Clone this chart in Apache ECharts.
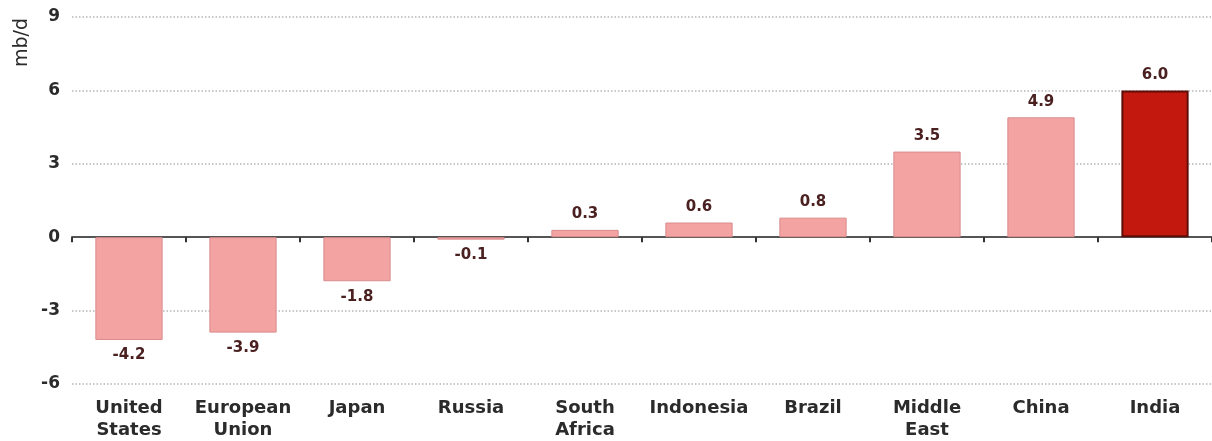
<!DOCTYPE html>
<html>
<head>
<meta charset="utf-8">
<script src="https://cdn.jsdelivr.net/npm/echarts@6/dist/echarts.min.js"></script>
<style>
  html, body { margin: 0; padding: 0; background: #ffffff; }
  #chart { width: 1212px; height: 441px; }
</style>
</head>
<body>
<div id="chart"></div>
<script>
// Change in oil demand by region, mb/d
const categories = ['United\nStates', 'European\nUnion', 'Japan', 'Russia', 'South\nAfrica',
                    'Indonesia', 'Brazil', 'Middle\nEast', 'China', 'India'];
const values = [-4.2, -3.9, -1.8, -0.1, 0.3, 0.6, 0.8, 3.5, 4.9, 6.0];
const highlighted = ['India'];
const yTicks = { min: -6, max: 9, step: 3 };
const unitLabel = 'mb/d';

const FONT = 'DejaVu Sans';
const lightFill = '#f4a3a3';
const lightEdge = '#d98c8c';
const darkFill = '#c3180d';
const darkEdge = '#5e0e08';

const chart = echarts.init(document.getElementById('chart'));

const barData = values.map((v, i) => {
  const hot = highlighted.includes(categories[i]);
  return {
    value: v,
    itemStyle: {
      color: hot ? darkFill : lightFill,
      borderColor: hot ? darkEdge : lightEdge,
      borderWidth: hot ? 2 : 1
    },
    label: { position: v >= 0 ? 'top' : 'bottom' }
  };
});

chart.setOption({
  animation: false,
  grid: { left: 72, right: 0, top: 17, bottom: 57 },
  xAxis: [
    {
      // zero line with boundary ticks
      type: 'category',
      data: categories,
      position: 'bottom',
      axisLine: { onZero: true, lineStyle: { color: '#555', width: 2 } },
      axisTick: { show: true, length: 5, lineStyle: { color: '#333', width: 2 } },
      axisLabel: { show: false },
      splitLine: { show: false }
    },
    {
      // category names along the bottom edge
      type: 'category',
      data: categories,
      position: 'bottom',
      axisLine: { show: false, onZero: false },
      axisTick: { show: false },
      axisLabel: {
        show: true, margin: 13, interval: 0,
        fontFamily: FONT, fontWeight: 'bold', fontSize: 18, color: '#2b2b2b',
        lineHeight: 22
      },
      splitLine: { show: false }
    }
  ],
  yAxis: {
    type: 'value',
    min: yTicks.min, max: yTicks.max, interval: yTicks.step,
    axisLine: { show: false },
    axisTick: { show: false },
    axisLabel: {
      margin: 12, fontFamily: FONT, fontWeight: 'bold', fontSize: 17, color: '#2b2b2b'
    },
    splitLine: { show: true, lineStyle: { color: '#b5b5b5', type: [1.5, 2], width: 1.5 } }
  },
  graphic: [{
    type: 'text',
    left: 13, top: 18,
    rotation: Math.PI / 2,
    style: { text: unitLabel, font: '19px "DejaVu Sans"', fill: '#2b2b2b' }
  }],
  series: [{
    type: 'bar',
    xAxisIndex: 0,
    data: barData,
    barWidth: '59%',
    label: {
      show: true,
      distance: 8,
      fontFamily: FONT, fontWeight: 'bold', fontSize: 15, color: '#4a2020',
      formatter: p => p.value.toFixed(1)
    }
  }]
});
</script>
</body>
</html>
